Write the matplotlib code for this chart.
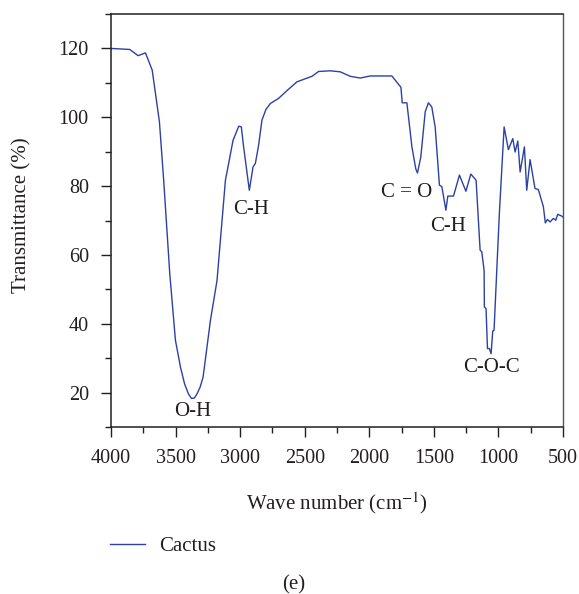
import numpy as np
import matplotlib
matplotlib.use("Agg")
import matplotlib.pyplot as plt
from matplotlib.ticker import MultipleLocator

plt.rcParams['font.family'] = ['Liberation Serif', 'DejaVu Serif']
plt.rcParams['mathtext.fontset'] = 'stix'

# FTIR spectrum of cactus (wave number in cm-1, transmittance in %)
wavenumber = [4000, 3855, 3790, 3733, 3681, 3625, 3592, 3545, 3501, 3462,
              3430, 3400, 3377, 3355, 3333, 3310, 3287, 3230, 3179, 3114,
              3055, 3011, 2991, 2973, 2929, 2900, 2882, 2857, 2831, 2800,
              2766, 2702, 2630, 2560, 2444, 2393, 2302, 2225, 2147, 2070,
              1993, 1825, 1755, 1745, 1709, 1670, 1640, 1627, 1601, 1567,
              1542, 1516, 1490, 1457, 1438, 1407, 1392, 1348, 1302, 1252,
              1214, 1173, 1142, 1129, 1111, 1109, 1096, 1085, 1070, 1057,
              1044, 1034, 1013, 993, 956, 923, 889, 871, 850, 832,
              799, 781, 755, 717, 691, 652, 637, 621, 600, 575,
              556, 541, 510, 500]
transmittance = [120.0, 119.7, 117.9, 118.7, 113.7, 98.7, 81.7, 54.6, 35.2, 27.4,
                 22.5, 19.6, 18.3, 18.4, 19.7, 21.6, 24.5, 41.0, 52.6, 81.7,
                 93.3, 97.4, 97.2, 91.4, 78.8, 85.6, 86.6, 91.9, 99.2, 102.3,
                 104.0, 105.5, 108.0, 110.3, 111.9, 113.3, 113.5, 113.2, 111.9, 111.4,
                 112.0, 112.0, 108.7, 104.2, 104.2, 91.4, 85.0, 83.8, 88.5, 101.6,
                 104.2, 103.0, 97.2, 80.3, 79.8, 73.0, 77.1, 77.1, 83.2, 78.5,
                 83.5, 81.7, 61.4, 60.9, 55.5, 44.9, 44.4, 32.8, 32.8, 31.3,
                 37.9, 38.1, 55.5, 72.0, 97.2, 90.6, 93.8, 89.9, 93.1, 84.1,
                 91.4, 78.8, 87.7, 79.3, 79.0, 74.0, 69.3, 70.3, 69.6, 70.6,
                 70.1, 71.8, 71.3, 71.0]

# band assignments: (text, wave number, transmittance)
band_labels = ['O-H', 'C-H', 'C = O', 'C-H', 'C-O-C']
band_x = [3370, 2913, 1714, 1389, 1057]
band_y = [14.6, 73.3, 78.0, 68.4, 27.4]

text_color = '#231f20'
line_color = '#2b41a5'
fs = 15

fig = plt.figure(figsize=(5.79, 5.94), dpi=100)
ax = fig.add_axes([0.1917, 0.2811, 0.7807, 0.6953])

line, = ax.plot(wavenumber, transmittance, color=line_color, lw=1.0, label='Cactus')

for txt, bx, by in zip(band_labels, band_x, band_y):
    ax.text(bx, by, txt, ha='center', va='center', fontsize=fs, color=text_color)

ax.set_xlim(4000, 500)
ax.set_ylim(10, 130)
ax.xaxis.set_major_locator(MultipleLocator(500))
ax.xaxis.set_minor_locator(MultipleLocator(250))
ax.yaxis.set_major_locator(MultipleLocator(20))
ax.yaxis.set_minor_locator(MultipleLocator(10))
ax.set_yticks([20, 40, 60, 80, 100, 120])

ax.tick_params(axis='both', which='major', direction='out', length=7, width=1,
               labelsize=14.5, colors=text_color, pad=9)
ax.tick_params(axis='both', which='minor', direction='out', length=4, width=1,
               colors=text_color)
ax.tick_params(top=False, right=False, which='both')
for side in ['left', 'bottom', 'top']:
    ax.spines[side].set_color(text_color)
    ax.spines[side].set_linewidth(1.1)
ax.spines['right'].set_color('#555555')
ax.spines['right'].set_linewidth(1.0)

ax.set_xlabel('Wave number (cm$^{-1}$)', fontsize=fs, color=text_color, labelpad=16)
ax.set_ylabel('Transmittance (%)', fontsize=fs, color=text_color)
ax.yaxis.set_label_coords(-0.176, 0.514)

fig.legend(handles=[line], loc='center left', bbox_to_anchor=(110 / 579, 1 - 546 / 594),
           frameon=False, fontsize=fs, handlelength=1.7, handletextpad=0.65,
           borderpad=0, borderaxespad=0, labelcolor=text_color)

fig.text(294 / 579, 1 - 585 / 594, '(e)', ha='center', va='center', fontsize=fs,
         color=text_color)

fig.savefig('out.png', dpi=100)
